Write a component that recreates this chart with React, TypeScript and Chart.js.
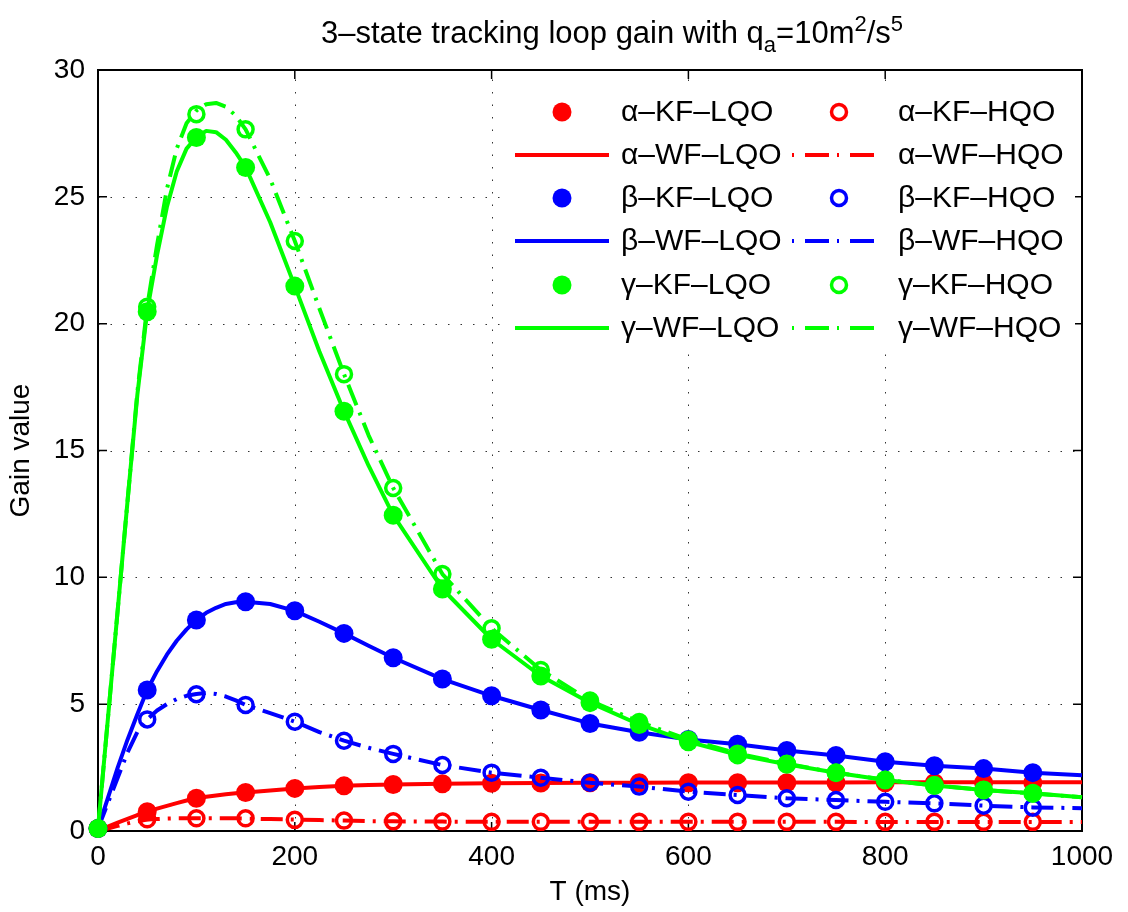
import { useEffect, useRef } from "react";
import { Chart, registerables } from "chart.js";

Chart.register(...registerables);

const FONT = '"Liberation Sans", Arial, Helvetica, sans-serif';

const RED = "#ff0000";
const BLUE = "#0000ff";
const GREEN = "#00ff00";

// Kalman filter gains, sampled every 50 ms
const kfTimes = [0, 50, 100, 150, 200, 250, 300, 350, 400, 450, 500, 550, 600, 650, 700, 750, 800, 850, 900, 950];
const alphaKfLqo = [0.1, 0.76, 1.29, 1.52, 1.68, 1.78, 1.83, 1.86, 1.88, 1.89, 1.9, 1.9, 1.9, 1.9, 1.9, 1.9, 1.9, 1.9, 1.9, 1.9];
const alphaKfHqo = [0.1, 0.46, 0.5, 0.5, 0.44, 0.41, 0.38, 0.37, 0.36, 0.36, 0.36, 0.36, 0.36, 0.36, 0.36, 0.36, 0.36, 0.36, 0.36, 0.36];
const betaKfLqo = [0.1, 5.56, 8.32, 9.04, 8.68, 7.79, 6.83, 5.99, 5.33, 4.77, 4.24, 3.89, 3.61, 3.42, 3.17, 2.98, 2.73, 2.57, 2.46, 2.3];
const betaKfHqo = [0.1, 4.4, 5.39, 4.97, 4.31, 3.56, 3.04, 2.6, 2.3, 2.1, 1.9, 1.75, 1.55, 1.42, 1.29, 1.22, 1.15, 1.09, 1.0, 0.92];
const gammaKfLqo = [0.1, 20.47, 27.34, 26.16, 21.48, 16.55, 12.45, 9.54, 7.56, 6.11, 5.06, 4.2, 3.52, 3.0, 2.63, 2.3, 2.01, 1.79, 1.62, 1.49];
const gammaKfHqo = [0.1, 20.67, 28.26, 27.66, 23.26, 18.01, 13.52, 10.13, 7.99, 6.35, 5.14, 4.3, 3.6, 3.05, 2.65, 2.3, 2.02, 1.8, 1.62, 1.48];

// Wiener filter gains on a finer time grid
const wfTimes = [0, 10, 20, 30, 40, 50, 60, 70, 80, 90, 100, 110, 120, 130, 140, 150, 175, 200, 225, 250, 275, 300, 350, 400, 450, 500, 550, 600, 650, 700, 750, 800, 850, 900, 950, 1000];
const alphaWfLqo = [0.02, 0.17, 0.33, 0.48, 0.63, 0.76, 0.88, 0.99, 1.1, 1.2, 1.29, 1.35, 1.4, 1.45, 1.49, 1.52, 1.6, 1.68, 1.73, 1.78, 1.81, 1.83, 1.86, 1.88, 1.89, 1.9, 1.9, 1.91, 1.91, 1.91, 1.91, 1.92, 1.92, 1.92, 1.92, 1.92];
const alphaWfHqo = [0.02, 0.1, 0.2, 0.3, 0.38, 0.45, 0.47, 0.49, 0.5, 0.5, 0.5, 0.5, 0.5, 0.5, 0.5, 0.49, 0.47, 0.45, 0.43, 0.41, 0.39, 0.38, 0.37, 0.36, 0.36, 0.36, 0.36, 0.36, 0.36, 0.36, 0.36, 0.35, 0.35, 0.35, 0.35, 0.35];
const betaWfLqo = [0.1, 1.3, 2.5, 3.6, 4.6, 5.56, 6.3, 6.95, 7.5, 7.95, 8.32, 8.6, 8.8, 8.95, 9.02, 9.04, 8.95, 8.68, 8.25, 7.79, 7.3, 6.83, 5.99, 5.33, 4.77, 4.24, 3.89, 3.61, 3.42, 3.17, 2.98, 2.73, 2.57, 2.46, 2.3, 2.2];
const betaWfHqo = [0.1, 1.1, 2.1, 3.1, 3.9, 4.4, 4.75, 5.0, 5.2, 5.33, 5.4, 5.44, 5.4, 5.3, 5.15, 4.97, 4.65, 4.31, 3.9, 3.56, 3.28, 3.04, 2.6, 2.3, 2.1, 1.9, 1.75, 1.55, 1.42, 1.29, 1.22, 1.15, 1.09, 1.0, 0.93, 0.9];
const gammaWfLqo = [0.1, 4.4, 8.7, 13.0, 17.2, 20.5, 22.7, 24.6, 26.0, 26.9, 27.35, 27.6, 27.55, 27.25, 26.75, 26.16, 24.0, 21.48, 18.9, 16.55, 14.4, 12.45, 9.54, 7.56, 6.11, 5.06, 4.2, 3.52, 3.0, 2.63, 2.3, 2.01, 1.79, 1.62, 1.49, 1.33];
const gammaWfHqo = [0.1, 4.4, 8.7, 13.0, 17.3, 20.67, 23.1, 25.3, 26.9, 27.9, 28.4, 28.65, 28.7, 28.55, 28.2, 27.66, 25.7, 23.26, 20.6, 18.01, 15.6, 13.52, 10.13, 7.99, 6.35, 5.14, 4.3, 3.6, 3.05, 2.65, 2.3, 2.02, 1.8, 1.62, 1.48, 1.33];

const xTickValues = [0, 200, 400, 600, 800, 1000];
const yTickValues = [0, 5, 10, 15, 20, 25, 30];

const titleParts = [
  { text: "3–state tracking loop gain with q", shift: "none" },
  { text: "a", shift: "sub" },
  { text: "=10m", shift: "none" },
  { text: "2", shift: "sup" },
  { text: "/s", shift: "none" },
  { text: "5", shift: "sup" },
];
const xAxisLabel = "T (ms)";
const yAxisLabel = "Gain value";

type Kind = "filled" | "open" | "solid" | "dashdot";
const legendRows: { color: string; left: [string, Kind]; right: [string, Kind] }[] = [
  { color: RED, left: ["α–KF–LQO", "filled"], right: ["α–KF–HQO", "open"] },
  { color: RED, left: ["α–WF–LQO", "solid"], right: ["α–WF–HQO", "dashdot"] },
  { color: BLUE, left: ["β–KF–LQO", "filled"], right: ["β–KF–HQO", "open"] },
  { color: BLUE, left: ["β–WF–LQO", "solid"], right: ["β–WF–HQO", "dashdot"] },
  { color: GREEN, left: ["γ–KF–LQO", "filled"], right: ["γ–KF–HQO", "open"] },
  { color: GREEN, left: ["γ–WF–LQO", "solid"], right: ["γ–WF–HQO", "dashdot"] },
];

const DASH_DOT = [22, 8, 3, 8];
const LINE_W = 4;
const FILLED_R = 9.5;
const OPEN_R = 7.5;
const OPEN_W = 3.5;

const pts = (xs: number[], ys: number[]) => xs.map((x, i) => ({ x, y: ys[i] }));

function markerSet(label: string, ys: number[], color: string, open: boolean) {
  return {
    label,
    data: pts(kfTimes, ys),
    showLine: false,
    pointStyle: "circle",
    pointRadius: open ? OPEN_R : FILLED_R,
    pointHoverRadius: open ? OPEN_R : FILLED_R,
    pointBackgroundColor: open ? "rgba(0,0,0,0)" : color,
    pointBorderColor: color,
    pointBorderWidth: open ? OPEN_W : 0,
    clip: false as const,
  };
}

function lineSet(label: string, ys: number[], color: string, dashed: boolean) {
  return {
    label,
    data: pts(wfTimes, ys),
    showLine: true,
    borderColor: color,
    borderWidth: LINE_W,
    borderDash: dashed ? DASH_DOT : [],
    borderCapStyle: "butt" as const,
    borderJoinStyle: "round" as const,
    pointRadius: 0,
    pointHoverRadius: 0,
    fill: false,
    clip: false as const,
  };
}

function drawLegend(ctx: CanvasRenderingContext2D) {
  ctx.save();
  ctx.fillStyle = "#ffffff";
  ctx.fillRect(503, 84, 572, 270);
  const rowY = [112, 155, 198, 241, 285, 328];
  const cols = [
    { marker: 562, x0: 515, x1: 609, text: 621 },
    { marker: 839, x0: 792, x1: 881, text: 898 },
  ];
  ctx.font = `30px ${FONT}`;
  ctx.textBaseline = "middle";
  ctx.textAlign = "left";
  legendRows.forEach((row, r) => {
    const y = rowY[r];
    [row.left, row.right].forEach(([label, kind], c) => {
      const col = cols[c];
      ctx.strokeStyle = row.color;
      ctx.fillStyle = row.color;
      if (kind === "filled") {
        ctx.beginPath();
        ctx.arc(col.marker, y, FILLED_R, 0, Math.PI * 2);
        ctx.fill();
      } else if (kind === "open") {
        ctx.lineWidth = OPEN_W;
        ctx.setLineDash([]);
        ctx.beginPath();
        ctx.arc(col.marker, y, OPEN_R, 0, Math.PI * 2);
        ctx.stroke();
      } else {
        ctx.lineWidth = LINE_W;
        ctx.lineCap = "butt";
        ctx.setLineDash(kind === "dashdot" ? [2, 11, 24, 8] : []);
        ctx.beginPath();
        ctx.moveTo(col.x0, y);
        ctx.lineTo(col.x1, y);
        ctx.stroke();
        ctx.setLineDash([]);
      }
      ctx.fillStyle = "#000";
      ctx.fillText(label, col.text, y + 1);
    });
  });
  ctx.restore();
}

function drawTitle(ctx: CanvasRenderingContext2D) {
  ctx.save();
  const main = `31px ${FONT}`;
  const small = `22px ${FONT}`;
  let total = 0;
  for (const p of titleParts) {
    ctx.font = p.shift === "none" ? main : small;
    total += ctx.measureText(p.text).width;
  }
  let x = 612 - total / 2;
  const base = 43;
  ctx.fillStyle = "#000";
  ctx.textBaseline = "alphabetic";
  ctx.textAlign = "left";
  for (const p of titleParts) {
    ctx.font = p.shift === "none" ? main : small;
    const dy = p.shift === "sub" ? 9 : p.shift === "sup" ? -12 : 0;
    ctx.fillText(p.text, x, base + dy);
    x += ctx.measureText(p.text).width;
  }
  ctx.restore();
}

const framePlugin = {
  id: "frame",
  beforeDatasetsDraw(chart: any) {
    const { ctx, chartArea: a, scales } = chart;
    const x = scales.x;
    const y = scales.y;
    ctx.save();
    // dotted grid
    ctx.strokeStyle = "rgba(0,0,0,0.8)";
    ctx.lineWidth = 1;
    ctx.setLineDash([1.5, 11]);
    for (const v of xTickValues) {
      const px = Math.round(x.getPixelForValue(v)) + 0.5;
      ctx.beginPath();
      ctx.moveTo(px, a.bottom);
      ctx.lineTo(px, a.top);
      ctx.stroke();
    }
    for (const v of yTickValues) {
      const py = Math.round(y.getPixelForValue(v)) + 0.5;
      ctx.beginPath();
      ctx.moveTo(a.left, py);
      ctx.lineTo(a.right, py);
      ctx.stroke();
    }
    ctx.setLineDash([]);
    // inward tick marks on all four sides
    ctx.strokeStyle = "#000";
    ctx.lineWidth = 1.5;
    const tl = 9;
    for (const v of xTickValues) {
      const px = x.getPixelForValue(v);
      ctx.beginPath();
      ctx.moveTo(px, a.bottom);
      ctx.lineTo(px, a.bottom - tl);
      ctx.moveTo(px, a.top);
      ctx.lineTo(px, a.top + tl);
      ctx.stroke();
    }
    for (const v of yTickValues) {
      const py = y.getPixelForValue(v);
      ctx.beginPath();
      ctx.moveTo(a.left, py);
      ctx.lineTo(a.left + tl, py);
      ctx.moveTo(a.right, py);
      ctx.lineTo(a.right - tl, py);
      ctx.stroke();
    }
    // axes box
    ctx.lineWidth = 2;
    ctx.strokeRect(a.left, a.top, a.right - a.left, a.bottom - a.top);
    ctx.restore();
  },
  afterDatasetsDraw(chart: any) {
    drawLegend(chart.ctx);
  },
  afterDraw(chart: any) {
    drawTitle(chart.ctx);
  },
};

export default function App() {
  const canvasRef = useRef<HTMLCanvasElement | null>(null);

  useEffect(() => {
    const canvas = canvasRef.current;
    if (!canvas) return;

    // plotting order, bottom to top
    const stack = [
      markerSet("α-KF-LQO", alphaKfLqo, RED, false),
      lineSet("α-WF-LQO", alphaWfLqo, RED, false),
      markerSet("α-KF-HQO", alphaKfHqo, RED, true),
      lineSet("α-WF-HQO", alphaWfHqo, RED, true),
      markerSet("β-KF-LQO", betaKfLqo, BLUE, false),
      lineSet("β-WF-LQO", betaWfLqo, BLUE, false),
      markerSet("β-KF-HQO", betaKfHqo, BLUE, true),
      lineSet("β-WF-HQO", betaWfHqo, BLUE, true),
      markerSet("γ-KF-LQO", gammaKfLqo, GREEN, false),
      lineSet("γ-WF-LQO", gammaWfLqo, GREEN, false),
      markerSet("γ-KF-HQO", gammaKfHqo, GREEN, true),
      lineSet("γ-WF-HQO", gammaWfHqo, GREEN, true),
    ];
    const datasets = stack.slice().reverse();

    const tickFont = { family: FONT, size: 28 };

    const chart = new Chart(canvas, {
      type: "scatter",
      data: { datasets: datasets as any },
      plugins: [framePlugin],
      options: {
        animation: false,
        responsive: false,
        devicePixelRatio: 1,
        events: [],
        layout: { padding: { left: 0, top: 70, right: 46, bottom: 0 } },
        plugins: {
          legend: { display: false },
          title: { display: false },
          tooltip: { enabled: false },
        },
        scales: {
          x: {
            type: "linear",
            min: 0,
            max: 1000,
            afterBuildTicks: (axis: any) => {
              axis.ticks = xTickValues.map((value) => ({ value }));
            },
            afterFit: (s: any) => {
              s.height = 81;
            },
            ticks: {
              font: tickFont,
              color: "#000",
              padding: 9,
              maxRotation: 0,
              autoSkip: false,
              callback: (v: any) => String(v),
            },
            grid: { display: false, drawTicks: false },
            border: { display: false },
            title: {
              display: true,
              text: xAxisLabel,
              font: tickFont,
              color: "#000",
              padding: { top: 0, bottom: 3 },
            },
          },
          y: {
            type: "linear",
            min: 0,
            max: 30,
            afterBuildTicks: (axis: any) => {
              axis.ticks = yTickValues.map((value) => ({ value }));
            },
            afterFit: (s: any) => {
              s.width = 98;
            },
            ticks: {
              font: tickFont,
              color: "#000",
              padding: 13,
              autoSkip: false,
              callback: (v: any) => String(v),
            },
            grid: { display: false, drawTicks: false },
            border: { display: false },
            title: {
              display: true,
              text: yAxisLabel,
              font: tickFont,
              color: "#000",
              padding: { top: 4, bottom: 0 },
            },
          },
        },
      },
    });

    return () => chart.destroy();
  }, []);

  return (
    <div style={{ position: "absolute", left: 0, top: 0, width: 1128, height: 912, background: "#fff" }}>
      <canvas ref={canvasRef} width={1128} height={912} style={{ display: "block" }} />
    </div>
  );
}
